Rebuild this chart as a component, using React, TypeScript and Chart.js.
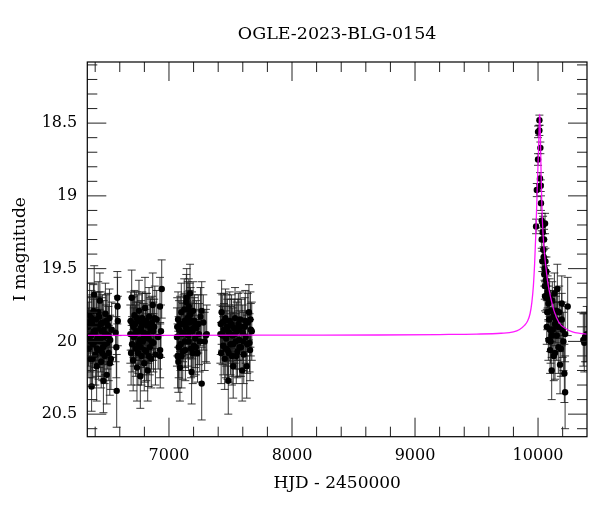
import { useEffect, useRef } from "react";
import { Chart, registerables } from "chart.js";

Chart.register(...registerables);

const TITLE = "OGLE-2023-BLG-0154";
const X_LABEL = "HJD - 2450000";
const Y_LABEL = "I magnitude";
const X_MAJOR = [7000, 8000, 9000, 10000];
const Y_MAJOR = [18.5, 19, 19.5, 20, 20.5];
const X_MIN = 6336;
const X_MAX = 10398;
const Y_MIN = 18.08;
const Y_MAX = 20.655;
const X_MINOR_STEP = 200;
const Y_MINOR_STEP = 0.1;

type Obs = [number, number, number]; // HJD-2450000, I mag, error

const season2013: Obs[] = [
  [6343, 19.9, 0.17], [6349, 20.05, 0.2], [6355, 19.82, 0.22], [6360, 20.12, 0.19],
  [6366, 19.96, 0.16], [6371, 20.31, 0.17], [6376, 19.88, 0.2], [6381, 20.02, 0.23],
  [6386, 19.79, 0.18], [6392, 19.68, 0.2], [6397, 19.94, 0.17], [6402, 20.09, 0.21],
  [6407, 19.85, 0.19], [6412, 20.17, 0.24], [6418, 19.98, 0.18], [6423, 19.91, 0.22],
  [6428, 20.06, 0.2], [6433, 19.83, 0.17], [6438, 19.72, 0.19], [6443, 20.0, 0.21],
  [6449, 20.14, 0.18], [6454, 19.93, 0.23], [6459, 19.87, 0.19], [6464, 20.04, 0.2],
  [6467, 20.27, 0.22], [6472, 19.97, 0.17], [6477, 20.1, 0.19], [6483, 19.81, 0.21],
  [6488, 19.95, 0.2], [6494, 20.23, 0.2], [6499, 20.01, 0.18], [6504, 19.89, 0.22],
  [6510, 20.08, 0.19], [6516, 19.84, 0.2], [6522, 19.99, 0.17], [6528, 20.12, 0.21],
  [6534, 19.92, 0.19], [6566, 19.94, 0.2], [6572, 20.04, 0.21], [6575, 20.34, 0.25],
  [6580, 19.7, 0.18], [6582, 19.76, 0.2], [6584, 19.86, 0.17],
  [6346, 19.97, 0.2], [6352, 19.87, 0.18], [6363, 20.0, 0.21], [6369, 19.84, 0.19],
  [6379, 20.12, 0.2], [6389, 19.93, 0.22], [6400, 20.0, 0.18], [6410, 19.9, 0.2],
  [6415, 20.05, 0.19], [6425, 19.8, 0.21], [6436, 19.98, 0.2], [6446, 19.88, 0.22],
  [6457, 20.08, 0.19], [6469, 19.92, 0.2], [6480, 20.02, 0.21], [6491, 19.86, 0.18],
  [6507, 19.96, 0.2], [6519, 20.15, 0.22],
];

const season2014: Obs[] = [
  [6686, 19.95, 0.2], [6692, 20.08, 0.22], [6697, 19.7, 0.19], [6703, 19.88, 0.18],
  [6709, 20.13, 0.21], [6714, 19.97, 0.2], [6719, 19.82, 0.17], [6724, 19.88, 0.22],
  [6729, 20.05, 0.19], [6735, 19.93, 0.2], [6740, 20.18, 0.23], [6745, 19.86, 0.18],
  [6751, 20.02, 0.2], [6756, 19.79, 0.21], [6761, 19.99, 0.17], [6767, 20.24, 0.22],
  [6772, 19.91, 0.19], [6777, 20.1, 0.2], [6783, 19.84, 0.18], [6788, 20.0, 0.23],
  [6794, 19.94, 0.2], [6799, 20.15, 0.19], [6805, 19.77, 0.21], [6810, 19.96, 0.18],
  [6816, 20.07, 0.2], [6821, 19.89, 0.22], [6827, 20.2, 0.21], [6832, 19.98, 0.17],
  [6838, 19.83, 0.2], [6844, 20.04, 0.19], [6850, 19.92, 0.21], [6856, 20.12, 0.2],
  [6862, 19.87, 0.18], [6868, 19.75, 0.22], [6874, 20.01, 0.2], [6880, 19.9, 0.19],
  [6890, 20.09, 0.21], [6900, 19.85, 0.2], [6912, 19.97, 0.22], [6927, 19.76, 0.2],
  [6928, 20.06, 0.19], [6929, 20.1, 0.22], [6935, 19.93, 0.18], [6941, 19.64, 0.2],
  [6689, 19.86, 0.2], [6700, 20.02, 0.19], [6712, 19.9, 0.21], [6727, 19.95, 0.2],
  [6738, 19.84, 0.18], [6748, 20.08, 0.22], [6759, 19.93, 0.2], [6770, 20.04, 0.19],
  [6780, 19.88, 0.21], [6791, 19.98, 0.2], [6802, 20.06, 0.22], [6813, 19.86, 0.19],
  [6824, 19.95, 0.2], [6835, 20.1, 0.21], [6847, 19.9, 0.2], [6859, 20.0, 0.19],
  [6871, 19.93, 0.2], [6885, 19.84, 0.22],
];

const season2015: Obs[] = [
  [7065, 19.97, 0.2], [7070, 20.1, 0.22], [7074, 19.85, 0.19], [7076, 20.14, 0.21],
  [7082, 19.92, 0.2], [7089, 20.18, 0.23], [7094, 20.02, 0.18], [7100, 19.8, 0.2],
  [7106, 19.95, 0.22], [7112, 20.07, 0.19], [7118, 19.88, 0.2], [7124, 19.78, 0.21],
  [7130, 20.0, 0.18], [7136, 19.9, 0.2], [7141, 19.73, 0.19], [7144, 19.7, 0.2],
  [7150, 19.84, 0.18], [7156, 19.96, 0.21], [7161, 19.76, 0.19], [7166, 19.87, 0.22],
  [7171, 19.67, 0.2], [7176, 19.81, 0.18], [7180, 20.05, 0.2], [7184, 20.21, 0.22],
  [7190, 19.93, 0.19], [7196, 19.79, 0.2], [7202, 20.03, 0.21], [7208, 19.86, 0.18],
  [7214, 19.98, 0.2], [7222, 19.91, 0.19], [7232, 20.08, 0.2], [7244, 19.95, 0.21],
  [7256, 19.83, 0.2], [7266, 19.79, 0.2], [7266, 20.29, 0.25], [7279, 19.87, 0.19],
  [7290, 20.0, 0.2], [7300, 19.96, 0.18], [7307, 19.95, 0.2],
  [7067, 19.9, 0.2], [7079, 20.04, 0.21], [7091, 19.88, 0.19], [7103, 20.1, 0.22],
  [7115, 19.94, 0.2], [7127, 19.86, 0.19], [7133, 20.06, 0.21], [7147, 19.92, 0.2],
  [7153, 19.78, 0.19], [7159, 20.0, 0.2], [7168, 19.82, 0.22], [7174, 19.92, 0.19],
  [7187, 19.86, 0.2], [7193, 20.08, 0.21], [7205, 19.9, 0.2], [7218, 20.04, 0.19],
  [7238, 19.88, 0.2], [7250, 20.0, 0.21],
];

const season2016: Obs[] = [
  [7418, 19.95, 0.2], [7424, 20.08, 0.21], [7428, 19.8, 0.22], [7433, 19.87, 0.19],
  [7441, 20.03, 0.2], [7447, 19.92, 0.18], [7453, 20.12, 0.21], [7459, 19.84, 0.2],
  [7465, 19.98, 0.19], [7471, 19.9, 0.22], [7476, 20.06, 0.2], [7482, 20.27, 0.23],
  [7488, 19.94, 0.19], [7494, 19.86, 0.2], [7500, 20.02, 0.21], [7506, 19.89, 0.18],
  [7512, 20.1, 0.2], [7518, 19.96, 0.19], [7522, 20.17, 0.22], [7530, 19.91, 0.2],
  [7537, 19.84, 0.21], [7543, 20.0, 0.19], [7550, 19.93, 0.2], [7557, 20.07, 0.18],
  [7564, 19.88, 0.21], [7571, 19.99, 0.2], [7578, 19.85, 0.19], [7585, 20.04, 0.2],
  [7595, 20.2, 0.21], [7600, 19.94, 0.19], [7608, 20.09, 0.2], [7616, 19.9, 0.2],
  [7624, 19.97, 0.18], [7632, 20.17, 0.22], [7640, 19.87, 0.2], [7650, 19.8, 0.19],
  [7655, 20.01, 0.2], [7659, 20.06, 0.21], [7665, 19.92, 0.18], [7673, 19.93, 0.2],
  [7421, 19.88, 0.21], [7436, 19.96, 0.2], [7450, 19.86, 0.19], [7462, 20.05, 0.2],
  [7474, 19.92, 0.21], [7485, 20.08, 0.2], [7497, 19.95, 0.19], [7509, 19.88, 0.2],
  [7521, 20.02, 0.22], [7534, 19.95, 0.2], [7547, 20.1, 0.19], [7560, 19.92, 0.21],
  [7575, 20.04, 0.2], [7590, 19.9, 0.19], [7604, 20.0, 0.2], [7620, 19.86, 0.21],
  [7636, 20.02, 0.2], [7662, 19.85, 0.19],
];

const season2023: Obs[] = [
  [9984, 19.21, 0.05], [9990, 18.96, 0.045], [10000, 18.56, 0.04], [10000, 18.75, 0.04],
  [10011, 18.48, 0.035], [10011, 18.55, 0.035], [10016, 18.88, 0.04], [10019, 18.67, 0.04],
  [10022, 18.93, 0.04], [10024, 19.05, 0.05], [10030, 19.17, 0.05], [10030, 19.3, 0.06],
  [10035, 19.45, 0.07], [10041, 19.2, 0.06], [10043, 19.37, 0.07], [10051, 19.54, 0.08],
  [10057, 19.19, 0.07], [10057, 19.69, 0.1], [10071, 19.62, 0.1], [10071, 19.9, 0.12],
  [10084, 19.74, 0.12], [10084, 19.99, 0.14], [10098, 19.92, 0.15], [10098, 20.06, 0.16],
  [10106, 19.79, 0.14], [10111, 19.96, 0.15], [10111, 20.2, 0.2], [10116, 19.72, 0.13],
  [10124, 19.83, 0.15], [10133, 19.67, 0.14], [10138, 19.88, 0.15], [10138, 20.08, 0.18],
  [10152, 19.79, 0.16], [10152, 19.96, 0.17], [10157, 19.64, 0.17], [10165, 20.04, 0.18],
  [10179, 19.9, 0.17], [10179, 20.16, 0.2], [10193, 19.85, 0.18], [10193, 19.74, 0.19],
  [10206, 20.0, 0.2], [10214, 20.22, 0.2], [10220, 19.95, 0.19], [10220, 20.35, 0.25],
  [10241, 19.76, 0.2], [10368, 19.99, 0.18], [10376, 20.01, 0.2], [10382, 19.97, 0.17],
  [10396, 19.95, 0.19],
  [10038, 19.25, 0.06], [10046, 19.42, 0.07], [10049, 19.3, 0.07], [10053, 19.5, 0.08],
  [10055, 19.62, 0.09], [10060, 19.45, 0.09], [10063, 19.58, 0.1], [10066, 19.7, 0.1],
  [10068, 19.52, 0.1], [10075, 19.8, 0.12], [10078, 19.66, 0.11], [10090, 19.85, 0.13],
  [10094, 19.7, 0.13], [10102, 20.0, 0.15], [10120, 19.92, 0.15], [10128, 20.1, 0.17],
  [10145, 19.85, 0.16], [10160, 19.9, 0.17], [10172, 19.8, 0.18], [10186, 20.05, 0.19],
  [10200, 19.92, 0.19],
];

// Model curve, sampled by eye from the reference.
const modelHjd = [
  6336, 7000, 8000, 8700, 9200, 9500, 9700, 9800, 9850, 9890, 9915, 9935, 9950, 9962,
  9972, 9981, 9988, 9996, 10004, 10008, 10011, 10013, 10016, 10020, 10025, 10030, 10036,
  10045, 10055, 10065, 10080, 10103, 10130, 10170, 10220, 10280, 10340, 10398,
];
const modelMag = [
  19.958, 19.958, 19.957, 19.956, 19.953, 19.95, 19.944, 19.935, 19.918, 19.89, 19.86,
  19.81, 19.73, 19.62, 19.47, 19.28, 19.1, 18.88, 18.68, 18.56, 18.47, 18.44, 18.47,
  18.62, 18.85, 19.03, 19.18, 19.32, 19.42, 19.5, 19.6, 19.7, 19.79, 19.87, 19.91,
  19.935, 19.945, 19.95,
];

const allObs: Obs[] = [...season2013, ...season2014, ...season2015, ...season2016, ...season2023];

const SERIF = "'DejaVu Serif', 'Liberation Serif', serif";

const errorBarPlugin = {
  id: "errorBars",
  beforeDatasetsDraw(chart: any) {
    const { ctx, chartArea, scales } = chart;
    const xs = scales.x;
    const ys = scales.y;
    ctx.save();
    ctx.beginPath();
    ctx.rect(chartArea.left, chartArea.top, chartArea.right - chartArea.left, chartArea.bottom - chartArea.top);
    ctx.clip();
    ctx.strokeStyle = "rgba(25,25,25,0.85)";
    ctx.lineWidth = 1;
    ctx.beginPath();
    for (const [t, m, e] of allObs) {
      const px = xs.getPixelForValue(t);
      const y1 = ys.getPixelForValue(m - e);
      const y2 = ys.getPixelForValue(m + e);
      ctx.moveTo(px, y1);
      ctx.lineTo(px, y2);
      ctx.moveTo(px - 4, y1);
      ctx.lineTo(px + 4, y1);
      ctx.moveTo(px - 4, y2);
      ctx.lineTo(px + 4, y2);
    }
    ctx.stroke();
    ctx.restore();
  },
};

const framePlugin = {
  id: "frameTicks",
  afterDraw(chart: any) {
    const { ctx, chartArea, scales } = chart;
    const xs = scales.x;
    const ys = scales.y;
    const { left, right, top, bottom } = chartArea;
    const MAJ = 19;
    const MIN = 10;
    ctx.save();
    ctx.strokeStyle = "#222";
    ctx.lineWidth = 1;
    ctx.beginPath();
    for (let v = Math.ceil(X_MIN / X_MINOR_STEP) * X_MINOR_STEP; v <= X_MAX; v += X_MINOR_STEP) {
      const px = xs.getPixelForValue(v);
      const len = X_MAJOR.includes(v) ? MAJ : MIN;
      ctx.moveTo(px, bottom);
      ctx.lineTo(px, bottom - len);
      ctx.moveTo(px, top);
      ctx.lineTo(px, top + len);
    }
    for (let i = Math.ceil(Y_MIN / Y_MINOR_STEP); i * Y_MINOR_STEP <= Y_MAX + 1e-9; i++) {
      const v = Math.round(i * Y_MINOR_STEP * 10) / 10;
      const py = ys.getPixelForValue(v);
      const len = Y_MAJOR.includes(v) ? MAJ : MIN;
      ctx.moveTo(left, py);
      ctx.lineTo(left + len, py);
      ctx.moveTo(right, py);
      ctx.lineTo(right - len, py);
    }
    ctx.stroke();
    ctx.strokeStyle = "#000";
    ctx.lineWidth = 1.2;
    ctx.strokeRect(left, top, right - left, bottom - top);
    // title, centred over the plotting area
    ctx.fillStyle = "#000";
    ctx.font = `17.5px ${SERIF}`;
    ctx.textAlign = "center";
    ctx.textBaseline = "middle";
    ctx.fillText(TITLE, (left + right) / 2, 34.5);
    ctx.restore();
  },
};

export default function App() {
  const canvasRef = useRef<HTMLCanvasElement | null>(null);

  useEffect(() => {
    if (!canvasRef.current) return;
    const chart = new Chart(canvasRef.current, {
      type: "scatter",
      data: {
        datasets: [
          {
            type: "line",
            label: "model",
            data: modelHjd.map((t, i) => ({ x: t, y: modelMag[i] })),
            borderColor: "rgba(255,0,255,0.9)",
            borderWidth: 1.3,
            pointRadius: 0,
            fill: false,
            cubicInterpolationMode: "monotone",
            order: 0,
          } as any,
          {
            type: "scatter",
            label: "OGLE",
            data: allObs.map(([t, m]) => ({ x: t, y: m })),
            backgroundColor: "#000",
            borderWidth: 0,
            pointRadius: 3.2,
            order: 1,
          },
        ],
      },
      options: {
        animation: false,
        responsive: true,
        maintainAspectRatio: false,
        events: [],
        layout: { padding: { left: 0, right: 13, top: 62, bottom: 0 } },
        plugins: {
          legend: { display: false },
          tooltip: { enabled: false },
          title: { display: false },
        },
        scales: {
          x: {
            type: "linear",
            min: X_MIN,
            max: X_MAX,
            grid: { display: false, drawTicks: false },
            border: { display: false },
            afterBuildTicks: (s: any) => {
              s.ticks = X_MAJOR.map((v) => ({ value: v }));
            },
            afterFit: (s: any) => {
              s.height = 75.3;
            },
            ticks: {
              color: "#000",
              padding: 10,
              font: { family: SERIF, size: 16 },
              callback: (v: any) => String(v),
            },
            title: {
              display: true,
              text: X_LABEL,
              color: "#000",
              font: { family: SERIF, size: 17, lineHeight: 1.2 },
              padding: { top: 0, bottom: 18 },
            },
          },
          y: {
            type: "linear",
            reverse: true,
            min: Y_MIN,
            max: Y_MAX,
            grid: { display: false, drawTicks: false },
            border: { display: false },
            afterBuildTicks: (s: any) => {
              s.ticks = Y_MAJOR.map((v) => ({ value: v }));
            },
            afterFit: (s: any) => {
              s.width = 87.3;
            },
            ticks: {
              color: "#000",
              padding: 10,
              font: { family: SERIF, size: 16 },
              callback: (v: any) => String(v),
            },
            title: {
              display: true,
              text: Y_LABEL,
              color: "#000",
              font: { family: SERIF, size: 17, lineHeight: 1.2 },
              padding: { top: 10, bottom: 0 },
            },
          },
        },
      },
      plugins: [errorBarPlugin, framePlugin],
    });
    return () => chart.destroy();
  }, []);

  return (
    <div style={{ position: "fixed", left: 0, top: 0, width: 600, height: 512, background: "#fff" }}>
      <canvas ref={canvasRef} />
    </div>
  );
}
